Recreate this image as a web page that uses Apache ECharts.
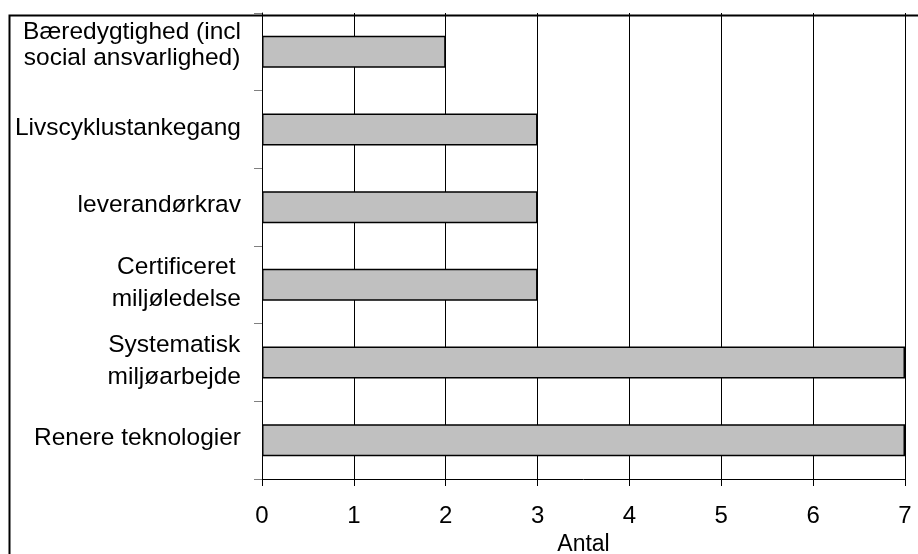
<!DOCTYPE html>
<html>
<head>
<meta charset="utf-8">
<script src="https://cdn.jsdelivr.net/npm/echarts@6/dist/echarts.min.js"></script>
<style>
  html, body { margin: 0; padding: 0; background: #ffffff; }
  #chart { width: 918px; height: 554px; }
</style>
</head>
<body>
<div id="chart"></div>
<script>
// Categories listed bottom to top (category axis runs upward)
const categories = [
  'Renere teknologier',
  'Systematisk\nmiljøarbejde',
  'Certificeret\nmiljøledelse',
  'leverandørkrav',
  'Livscyklustankegang',
  'Bæredygtighed (incl\nsocial ansvarlighed)'
];
const counts = [7, 7, 3, 3, 3, 2];
const xTicks = [0, 1, 2, 3, 4, 5, 6, 7];
const xAxisName = 'Antal';

const FONT = '"Liberation Sans", Arial, Helvetica, sans-serif';
const LABEL_SIZE = 24.5;

// Each line of a category label is centred inside its label block.
// The top label is set a little tighter and sits higher in its band.
function categoryLabel(value) {
  const lines = value.split('\n');
  if (value.indexOf('Bæredygtighed') === 0) {
    return lines.map(l => '{t|' + l + '}').join('\n') + '\n{gap| }';
  }
  return lines.map(l => '{c|' + l + '}').join('\n');
}

const chart = echarts.init(document.getElementById('chart'), null, { renderer: 'canvas' });

chart.setOption({
  animation: false,
  backgroundColor: '#ffffff',
  grid: {
    left: 262, right: 13, top: 13, bottom: 75,
    containLabel: false,
    outerBoundsMode: 'none'
  },
  xAxis: {
    type: 'value',
    min: xTicks[0],
    max: xTicks[xTicks.length - 1],
    interval: 1,
    name: xAxisName,
    nameLocation: 'middle',
    nameGap: 51,
    nameTextStyle: { color: '#000', fontFamily: FONT, fontSize: 23 },
    axisLine: { show: true, lineStyle: { color: '#000', width: 1 } },
    axisTick: { show: true, length: 7, lineStyle: { color: '#000' } },
    axisLabel: { color: '#000', fontFamily: FONT, fontSize: 24, margin: 25 },
    splitLine: { show: true, lineStyle: { color: '#000', width: 1 } }
  },
  yAxis: {
    type: 'category',
    data: categories,
    axisLine: { show: true, lineStyle: { color: '#000', width: 1 } },
    axisTick: { show: true, length: 8, alignWithLabel: false, lineStyle: { color: '#808080' } },
    axisLabel: {
      color: '#000',
      fontFamily: FONT,
      fontSize: LABEL_SIZE,
      margin: 21,
      lineHeight: 32,
      align: 'right',
      padding: [0, 0, 3, 0],
      formatter: categoryLabel,
      rich: {
        c: { align: 'center', fontFamily: FONT, fontSize: LABEL_SIZE, lineHeight: 32, color: '#000' },
        t: { align: 'center', fontFamily: FONT, fontSize: LABEL_SIZE, lineHeight: 26, color: '#000' },
        gap: { fontSize: 4, lineHeight: 11 }
      }
    },
    splitLine: { show: false }
  },
  series: [{
    type: 'bar',
    data: counts,
    barWidth: 32,
    itemStyle: { color: '#c0c0c0', borderColor: '#000', borderWidth: 1.5 },
    silent: true
  }],
  graphic: [{
    type: 'rect',
    left: 7,
    top: 13,
    shape: { x: 0, y: 0, width: 1000, height: 1000 },
    style: { fill: 'none', stroke: '#000', lineWidth: 2 },
    silent: true,
    z: 100
  }]
});
</script>
</body>
</html>
